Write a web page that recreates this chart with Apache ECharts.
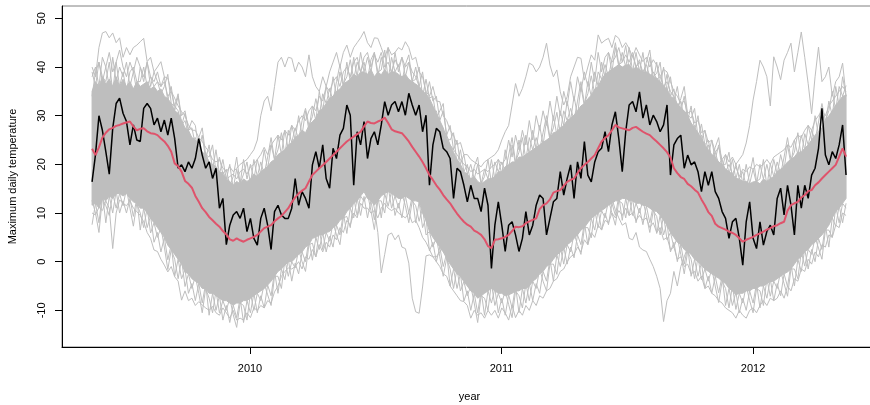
<!DOCTYPE html>
<html><head><meta charset="utf-8">
<script src="https://cdn.jsdelivr.net/npm/echarts@6/dist/echarts.min.js"></script>
<style>html,body{margin:0;padding:0;background:#fff}#c{width:870px;height:405px}</style>
</head><body><div id="c"></div>
<script>
// Daily series sampled every 5 days from mid-May 2009 to mid-May 2012
const startYear = 2009.372;
const stepDays = 5;
const xTicks = [2010, 2011, 2012];
const yTicks = [-10, 0, 10, 20, 30, 40, 50];

// Observed maximum daily temperature (black)
const observed = [
16.4,22,30,27,22.6,18,27.4,32.5,33.6,30.5,
28.8,24,28.1,25,24.7,31.5,32.5,31.5,28.1,29.5,
26.7,29.1,26,29.5,25.3,19.2,19.9,18.5,20.5,19.2,
21.2,25.3,21.9,19.2,20.5,17.1,19.2,11,13,3.5,
7.5,9.6,10.3,8.9,11,6.2,8.9,4.8,3.4,8.9,
11,7.5,2.5,10.3,11.6,9.6,8.9,8.9,11,17.1,
11.6,14.4,13,11,19.9,22.6,19.2,24,17.1,15.1,
23.3,21.2,26,27.4,32.2,30.1,15.7,26.7,24,28.8,
21.2,25.3,26.7,24,28.1,32.9,30.1,32.2,32.9,30.8,
32.9,30.1,34.6,32.2,30.1,32.2,26.7,30.1,15.7,24,
27.4,26.7,23.3,22.6,21.2,13,19.2,18.5,15.7,12.3,
15.7,13,13,10.3,15.1,11.6,-1.4,7.5,12.3,7.5,
2.1,7.5,8.2,5.5,2.1,4.8,10.3,5.5,7.5,11.6,
13.7,13,5.5,8.9,12.3,13,18.5,13.7,17.1,19.9,
13,20.5,17.1,24.7,17.8,16.4,20.5,22.6,23.3,26.7,
22.6,28.1,30.8,25.3,18.5,26.7,32.2,32.9,30.8,34.9,
29.5,32.2,28.1,30.1,28.8,26.7,28.1,32.2,17.8,24,
25.3,26,19.2,21.9,19.9,20.5,18.5,14.4,18.5,15.7,
18.5,14.4,13,10.3,8.9,4.8,8.2,8.9,4.8,-0.7,
8.2,12.3,4.8,2.7,8.2,3.4,6.2,7.5,5.5,13,
15.1,9.6,15.7,11.6,5.5,15.7,11,15.7,13,17.8,
19.2,23.3,31.5,21.9,19.9,22.6,21.2,24,28.1,17.8
];

// Ensemble mean (red)
const ensembleMean = [
23.2,21.9,23.5,25.5,26.5,27.2,27.5,27.9,28.1,28.4,
28.6,28.8,27.8,27,27.3,27.4,26.8,26.4,26.3,26,
25.3,24.7,23.8,22.6,20.2,19.6,18.5,16.6,16,15.2,
13.5,12.3,11,10.2,9.2,8.5,7.8,7.2,6.3,5.6,
4.6,4.3,4.8,4.4,4.1,4.5,4.8,5.1,5.5,6.2,
6.9,7.2,7.5,8.3,8.9,9.4,10.2,11,12.2,13.2,
14,14.6,15.1,16.5,17.8,18.5,19.2,19.8,20.5,21.2,
21.9,22.6,23.3,24,24.7,25.2,25.7,26.2,26.7,27.8,
28.8,28.5,28.4,28.8,29.1,29.6,28.5,27.2,26.8,26.6,
26.4,25.6,24.7,23.6,22.6,21.6,20.5,19.2,17.8,16.8,
15.7,14.8,13.7,12.8,12,10.9,9.9,9,8.2,7.6,
7.2,6.4,6,5.5,4.6,3.2,2.8,4.5,4.6,4.8,
5.1,5.5,6.3,7.2,7.1,7.3,7.9,8.3,8.6,8.9,
10.8,11.6,12,12.8,14.2,14.5,14.7,15.6,16.4,16.8,
17.1,18.2,19.2,19.9,20.5,21.2,21.9,23.3,24.7,25.4,
26,27,28.1,27.6,27.4,27.2,27,27.5,27.7,27.2,
26.7,26.3,26,25.3,24.7,24,23.3,22.5,21.4,19.2,
18.2,17.4,17,16,15.5,14.8,14.2,12.8,11.6,10.2,
9.4,7.8,7.2,6.9,6.6,6.2,5.9,5.5,4.8,4.1,
4.5,4.8,5.1,5.5,5.8,6.2,6.6,6.9,7.3,7.5,
7.9,8.2,10.5,11.6,12,12.3,13.2,13.7,14.5,14.7,
15.7,16.3,17.1,17.8,18.5,19.2,19.9,21.6,23.3,21.6
];

// Dense part of the ensemble: lower and upper edge
const bandLower = [
11.6,12,11,13,12.5,13.5,13,14,14,13.5,
14,13,12.3,12,11,11,10,8.9,8,7,
6,5,3.4,2.5,1.5,0.5,-0.5,-2.1,-2.5,-3.5,
-4,-4.5,-5.5,-5.5,-6.5,-6.5,-7,-7.5,-8,-8,
-8.5,-8.9,-8.5,-8.5,-8,-8,-7.5,-7,-6.5,-6,
-5.5,-4.8,-4,-3,-2,-1.5,-0.7,0,0,0.7,
1.5,2,3,3.5,4.8,5,5.5,5.5,6,6.2,
7,7.5,8.5,9,10.3,11,12,12.5,13.5,14.4,
13,12.5,11.6,12.5,13.5,14,14.4,14,13.5,13,
13,13.5,13,12.5,12.5,12.3,10,8.5,6.2,5,
4,3,2,0.7,-0.5,-1.5,-2.5,-3,-4.1,-5,
-6,-6.5,-7.5,-7,-6.5,-6,-5.5,-6,-6.5,-6.5,
-7,-6.8,-6.5,-6,-6,-5.5,-5.5,-5,-4,-3.5,
-2.5,-2,-1,-0.5,0.5,1.4,2,2.5,3.5,4,
4.8,5.5,6.5,7,8,8.9,9.5,10,10.5,11,
11.6,12,12.5,12.5,13,13,12.5,12.5,12,12,
11.6,11.5,11,10.5,10.3,9.5,8.5,7.5,6,5,
4,3.5,2.5,2.1,1.5,0.5,0,-0.7,-1.5,-2,
-2.5,-3,-3.4,-4,-4.5,-5.5,-6,-6.8,-6.5,-6.5,
-6,-6,-5.5,-5.5,-5,-5,-4.5,-4.1,-4,-3.5,
-3,-2.5,-2.1,-1.5,-0.5,0.5,1,2.1,2.5,3.5,
4,4.8,5.5,6.5,7.5,9,10.3,11,12,13
];
const bandUpper = [
35,37,36,38,36.5,37.5,36,38,36,37.5,
36,37,35.5,37,36,36.5,37,35.5,36,35,
35.5,34,33.5,32.5,31,30.5,29,27.5,27,25.5,
25,23.5,22.5,22,20.5,20,19.5,18.5,18,17,
16.5,15.7,16.5,16,17,16.5,17,18,17.5,18.5,
19,19.5,20.5,21,22,22.5,23,24,24.5,25.5,
26,27,26.5,28,28.8,29.5,31,31.5,32.5,33.6,
34,35,35.5,36.5,37,37.5,38.5,38,39,39,
38.5,39.5,38,39,38.4,39.5,38.5,39,39,38.5,
38,38.5,37.5,37,36.5,36,35,34.5,33.6,32,
30.5,29,27.5,25.3,24,22.5,21,20,18.5,18,
17,17.5,16.5,16,16.5,17,17.1,17.5,18.5,18.5,
19.5,19.9,20.5,20.5,21.5,21.5,22,22.5,23,23.5,
24,24.5,25,25.5,26.5,26.7,27.5,28,29,29.5,
30.1,31,32,32.5,33.5,34.2,35.5,36,37.5,38.5,
39,39.5,40,40.5,40,40.4,40.5,39.5,40,39.5,
39,39,38.5,38,37.7,37,36,35.5,34,33.5,
32.5,31.5,31,30.1,28.5,27.5,26.5,25.3,24,23,
22,21.5,20.5,20,19,18.5,18,17.1,17,16.5,
16.5,16,16.4,16.5,16,17,16.5,17.1,17.5,18.5,
19,19.5,20.5,21,21.5,22.5,22.5,23.3,24,25,
26,26.7,27.5,29,30,31,32.2,33,34,34.2
];

// Members running along the edges of the dense part
const edgeHighA = [
39,36,41,37,40,36,42,37,40,38,
41,36,39,35,40,37,41,36,39,37,
36,38,33,36,31,34,30,31,27,29,
28,23,26,21,24,19,23,18,21,17,
20,15,19,16,21,17,20,17,21,18,
23,19,24,21,26,22,27,23,28,25,
30,26,31,27,32,29,35,31,36,33,
38,34,39,36,41,37,42,38,43,39,
42,39,43,38,42,39,44,38,43,39,
42,38,41,37,40,36,39,34,37,33,
34,29,31,26,28,23,25,20,22,18,
20,17,20,16,19,17,21,17,21,18,
23,19,24,20,25,21,26,22,27,23,
28,24,29,25,30,26,31,28,33,29,
34,30,36,32,37,34,39,36,41,38,
43,39,44,40,43,40,44,39,43,39,
43,38,42,37,41,36,40,35,38,33,
36,31,34,29,32,27,30,25,27,22,
25,21,24,19,22,18,21,17,20,16,
20,16,19,16,20,17,20,17,21,18,
22,19,24,20,25,22,26,23,28,25,
30,26,31,28,33,30,36,32,38,34
];
const edgeHighB = [
34,39,41,38,37,41,35,41,36,39,
35,39,40,37,37,40,36,38,36,37,
34.5,36,38.5,32.5,32,34.5,28,30.5,27,27.5,
24,25.5,27.5,22,21.5,24,18.5,21.5,18,19,
15.5,17.5,21.5,16,18,20.5,16,21,17.5,20.5,
18,21.5,25.5,21,23,26.5,22,27,24.5,27.5,
25,29,31.5,28,29.8,33.5,30,34.5,32.5,35.6,
33,37,40.5,36.5,38,41.5,37.5,41,39,41,
37.5,41.5,43,39,39.4,43.5,37.5,42,39,40.5,
37,40.5,42.5,37,37.5,40,34,37.5,33.6,34,
29.5,31,32.5,25.3,25,26.5,20,23,18.5,20,
16,19.5,21.5,16,17.5,21,16.1,20.5,18.5,20.5,
18.5,21.9,25.5,20.5,22.5,25.5,21,25.5,23,25.5,
23,26.5,30,25.5,27.5,30.7,26.5,31,29,31.5,
29.1,33,37,32.5,34.5,38.2,34.5,39,37.5,40.5,
38,41.5,45,40.5,41,44.4,39.5,42.5,40,41.5,
38,41,43.5,38,38.7,41,35,38.5,34,35.5,
31.5,33.5,36,30.1,29.5,31.5,25.5,28.3,24,25,
21,23.5,25.5,20,20,22.5,17,20.1,17,18.5,
15.5,18,21.4,16.5,17,21,15.5,20.1,17.5,20.5,
18,21.5,25.5,21,22.5,26.5,21.5,26.3,24,27,
25,28.7,32.5,29,31,35,31.2,36,34,36.2
];
const edgeLowA = [
7.6,12,8,14,8,13.5,10,14.5,10,12.5,
10,13,9.3,13,6.5,11,7,9.4,4,6,
2,5,0.4,3.5,-3,0.5,-3.5,-1.6,-6.5,-4.5,
-8,-4.5,-8.5,-4.5,-11,-6.5,-10,-7,-12,-9,
-12.5,-8.9,-11.5,-7.5,-12.5,-8,-10.5,-6.5,-10.5,-7,
-9.5,-4.8,-7,-2,-6.5,-1.5,-3.7,0.5,-4,-0.3,
-2.5,2,0,4.5,0.3,5,2.5,6,2,5.2,
3,7.5,5.5,10,5.8,11,9,13,9.5,13.4,
9,12.5,8.6,13.5,9,14,11.4,14.5,9.5,12,
9,13.5,10,13.5,8,12.3,7,9,2.2,4,
0,3,-1,1.7,-5,-1.5,-5.5,-2.5,-8.1,-6,
-10,-6.5,-10.5,-6,-11,-6,-8.5,-5.5,-10.5,-7.5,
-11,-6.8,-9.5,-5,-10.5,-5.5,-8.5,-4.5,-8,-4.5,
-6.5,-2,-4,0.5,-4,1.4,-1,3,-0.5,3,
0.8,5.5,3.5,8,3.5,8.9,6.5,10.5,6.5,10,
7.6,12,9.5,13.5,8.5,13,9.5,13,8,11,
7.6,11.5,8,11.5,5.8,9.5,5.5,8,2,4,
0,3.5,-0.5,3.1,-3,0.5,-3,-0.2,-5.5,-3,
-6.5,-3,-6.4,-3,-9,-5.5,-9,-6.3,-10.5,-7.5,
-10,-6,-8.5,-4.5,-9.5,-5,-7.5,-3.6,-8,-4.5,
-7,-2.5,-5.1,-0.5,-5,0.5,-2,2.6,-1.5,2.5,
0,4.8,2.5,7.5,3,9,7.3,11.5,8,12
];
const edgeLowB = [
12.6,10,6,13,11.5,9.5,14,11,14,11.5,
15,11,7.3,12,10,7,11,5.9,8,5,
7,3,-1.6,2.5,0.5,-3.5,0.5,-5.1,-2.5,-5.5,
-3,-6.5,-10.5,-5.5,-7.5,-10.5,-6,-10.5,-8,-10,
-7.5,-10.9,-13.5,-8.5,-9,-12,-6.5,-10,-6.5,-8,
-4.5,-6.8,-9,-3,-3,-5.5,0.3,-3,0,-1.3,
2.5,0,-2,3.5,3.8,1,6.5,2.5,6,4.2,
8,5.5,3.5,9,9.3,7,13,9.5,13.5,12.4,
14,10.5,6.6,12.5,12.5,10,15.4,11,13.5,11,
14,11.5,8,12.5,11.5,8.3,11,5.5,6.2,3,
5,1,-3,0.7,-1.5,-5.5,-1.5,-6,-4.1,-7,
-5,-8.5,-12.5,-7,-7.5,-10,-4.5,-9,-6.5,-8.5,
-6,-8.8,-11.5,-6,-7,-9.5,-4.5,-8,-4,-5.5,
-1.5,-4,-6,-0.5,-0.5,-2.6,3,-0.5,3.5,2,
5.8,3.5,1.5,7,7,4.9,10.5,7,10.5,9,
12.6,10,7.5,12.5,12,9,13.5,9.5,12,10,
12.6,9.5,6,10.5,9.3,5.5,9.5,4.5,6,3,
5,1.5,-2.5,2.1,0.5,-3.5,1,-3.7,-1.5,-4,
-1.5,-5,-8.4,-4,-5.5,-9.5,-5,-9.8,-6.5,-8.5,
-5,-8,-10.5,-5.5,-6,-9,-3.5,-7.1,-4,-5.5,
-2,-4.5,-7.1,-1.5,-1.5,-3.5,2,-0.9,2.5,1.5,
5,2.8,0.5,6.5,6.5,5,11.3,8,12,11
];

// Members well outside the dense part
const memberHigh = [
40,38,44,47,47.3,46,47,45,46,42,
44,42.5,44,44.5,45.2,45.9,41.1,42,39,40,
41.1,38,37.7,35,33.6,32,30.8,30,28.1,27,
27,25.5,24.7,23.5,22.6,21,20.5,21,19.2,18.5,
19.5,18.5,19.2,20,20.5,21,22,23,25,30,
33,34,31,36,41,42,40,42,41.8,39,
41,40,38,42.5,38,36,35,38,36,39,
41,43,40,43,44.5,42,44,45,46,47.3,
45,44,46,45.9,44,42,44,42.5,43,44,
43.5,45.2,44,41.5,42,39,38,35,34,36,
33,32.9,30,29,27,26,24,24.5,22,22,
21,20.5,20,19.5,20.5,21,21.5,22,23,25,
26.7,28,32.2,36.6,34,35.6,38,40.8,40.4,39,
40,42,44.9,40.4,38,39.4,34.9,32.2,33.9,38,
40,42,41.8,37.3,40,42.5,41.4,46.6,44.9,45.5,
45.9,44,46.5,45.9,44,45,43.8,42,44,42.5,
41.1,42,40,41.5,40.4,38,39.5,39,37,35,
34,32.5,33,30.5,31,28.5,29,26.5,27,24.5,
25,22.5,23.5,21,22,20.5,21.5,20,21,22,
24.4,28,33.2,37,41.4,40,38,32,42.1,40,
37.4,41.4,43,44.9,39,43,47.2,42,36.6,30.4,
38,44.1,37,38,40,34,37,38,40.8,34
];
const memberHigh2 = [
38,40,36,42,40,43,39,41,43.5,40,
38,41,39,42,40,38,41,38,37,39,
36,37,34,35,32,31,28,29,26,25,
25.5,23,22,22.5,20,19.5,19,18,18.5,17,
17.5,18,17,18.5,19,18,19.5,20,21,22,
23.5,22,24,25,26,25,27,26,28,27,
29,30,29,31,32,31,34,33,36,35,
37,38,36,39,40,38,41,42,39,42,
43,40,42.5,41,43,40,41,39,41.5,40,
42,40,41,39,38,36,35,33,32,30,
31,28,27,26,24,23,22,21,20,19.5,
18.5,19,18,18.5,19,18.5,19.5,20,21,20,
21,25,21.5,26,23,27,24,29,25,30,
27,31,28,33,29,34,30,35,32,37,
33,38,35,39,36,41,37,43,39,42,
43,41,42,44,41,42.5,41,43,40,41,
39,40.5,38,39,37.5,38,36,37,35,34,
32,33,29.5,30,27,28,25,26,23,24,
21,22.5,20,21,18.5,20,18,19.5,17.5,19,
18.5,19.5,19,20,19.5,20,21,20,21.5,22,
22.5,23,24,23.5,25,26,25.5,27,28,27,
29,30,31,30,32,33,34,35,36,35
];
const memberLow = [
10,9.6,11.2,10.5,12.5,11,2.7,10,12.7,12,
11.5,12.5,11,10.3,9.5,8.2,6,4.8,2.4,2.1,
0.5,-0.7,-2.1,-1,-3.1,-4,-7.9,-6,-8,-7.5,
-9,-8.2,-8.9,-9.5,-10,-9.2,-10.5,-11,-9.5,-10.5,
-11.6,-10,-12,-11.6,-12,-10.5,-11.5,-9.5,-10,-9,
-9.5,-8,-8.5,-6.2,-5,-3,-2,-1.3,-1.5,-1,
0,-1.5,1,0.5,2.5,1,3.5,2,4,3,
5.5,4.5,7,6,8.5,7.5,10,9,12,11,
11,10,10.5,9,11,12,11,10.5,11,10,
9.5,9,10,8,8.5,7,5,4,2.5,1,
0,-1,-2.5,-3,-5,-6,-7,-8,-8.2,-9,
-11.6,-10,-11,-10.5,-11.6,-10,-11,-10,-11.6,-9.5,
-10.5,-12,-9,-11.5,-10,-11,-9,-10,-8,-9,
-7,-7.5,-6,-5.5,-4,-3.5,-2,-1.5,0,1,
1.5,3,2,4.5,3.5,6,5,7.5,6.5,8.5,
8,10,9,10.5,9.5,11,9.5,10,8.5,9.5,
8.5,9,7,8,6,7,4.5,5,2.5,3,
0.5,1,-1,-0.5,-2.5,-2,-4,-3,-5.5,-5,
-6.5,-7,-8,-8.5,-9.5,-10,-10.5,-11.6,-10,-11,
-11.6,-10,-9.5,-10.5,-9,-8,-9,-7.5,-8,-7.5,
-6,-7.5,-5,-6,-3.5,-4,-1.5,-2,0.5,-0.5,
2,1,3.5,3,5.5,5,7.5,7,10,9.5
];
// Two members that drop far below the rest (index where each stretch starts)
const lowAutumn2010Start = 77;
const lowAutumn2010 = [22,19,17,16,14,11,6,-2.3,1.5,5.5,5.9,4.5,5.5,3,2.7,-0.3,-7.5,-10.3,-10.6,-5.2,1.2,1.4,1,1,2,3,8.2,10];
const lowAutumn2011Start = 150;
const lowAutumn2011 = [14,13,10.6,9,7.5,8,4.8,4.5,6,3,2.4,2.1,0.5,-1,-3,-5.5,-12.3,-8,-6.5,-2,-5,-1,1,3,5.8];

const FONT = 'Liberation Sans, Arial, Helvetica, sans-serif';
const GRAY = '#BEBEBE';
const RED = '#DF536B';

function yearAt(i) { return startYear + i * stepDays / 365.25; }
function toPairs(values, offset) {
  const o = offset || 0;
  return values.map((v, i) => [yearAt(i + o), v]);
}
// band rows: [year, lower, upper]
const bandRows = bandLower.map((lo, i) => [yearAt(i), lo, bandUpper[i]]);

function grayLine(name, data) {
  return { name, type: 'line', data, symbol: 'none', silent: true,
    lineStyle: { color: GRAY, width: 1 }, z: 2 };
}

const chart = echarts.init(document.getElementById('c'), null, { renderer: 'canvas' });
chart.setOption({
  animation: false,
  backgroundColor: '#fff',
  grid: { left: 62, right: -7, top: 6, bottom: 58, show: true, borderColor: '#808080', borderWidth: 1,
    containLabel: false, outerBoundsMode: 'none' },
  xAxis: {
    type: 'value', min: 2009.2525, max: 2012.493,
    axisLine: { show: true, onZero: false, lineStyle: { color: '#000', width: 1 } },
    axisTick: { show: true, customValues: xTicks, length: 7, lineStyle: { color: '#000' } },
    axisLabel: { customValues: xTicks, formatter: v => String(Math.round(v)), fontSize: 11, color: '#000', fontFamily: FONT, margin: 16 },
    splitLine: { show: false },
    name: 'year', nameLocation: 'middle', nameGap: 44,
    nameTextStyle: { fontSize: 11, color: '#000', fontFamily: FONT }
  },
  yAxis: {
    type: 'value', min: -17.53, max: 52.54,
    axisLine: { show: true, onZero: false, lineStyle: { color: '#000', width: 1 } },
    axisTick: { show: true, customValues: yTicks, length: 7, lineStyle: { color: '#000' } },
    axisLabel: { customValues: yTicks, formatter: v => String(Math.round(v)), rotate: 90, fontSize: 11, color: '#000', fontFamily: FONT, margin: 15 },
    splitLine: { show: false },
    name: 'Maximum daily temperature', nameLocation: 'middle', nameGap: 44, nameRotate: 90,
    nameTextStyle: { fontSize: 11, color: '#000', fontFamily: FONT }
  },
  series: [
    { name: 'band', type: 'custom', data: bandRows, silent: true, z: 1,
      encode: { x: 0, y: [1, 2] },
      renderItem: function (params, api) {
        if (params.dataIndex !== 0) return null;
        const up = [], lo = [];
        for (let k = 0; k < bandRows.length; k++) {
          up.push(api.coord([bandRows[k][0], bandRows[k][2]]));
          lo.push(api.coord([bandRows[k][0], bandRows[k][1]]));
        }
        const pts = up.concat(lo.reverse());
        return { type: 'polygon', shape: { points: pts },
          style: { fill: GRAY, stroke: GRAY, lineWidth: 1 } };
      }
    },
    grayLine('edgeHighA', toPairs(edgeHighA)),
    grayLine('edgeHighB', toPairs(edgeHighB)),
    grayLine('edgeLowA', toPairs(edgeLowA)),
    grayLine('edgeLowB', toPairs(edgeLowB)),
    grayLine('high', toPairs(memberHigh)),
    grayLine('high2', toPairs(memberHigh2)),
    grayLine('low', toPairs(memberLow)),
    grayLine('low2010', toPairs(lowAutumn2010, lowAutumn2010Start)),
    grayLine('low2011', toPairs(lowAutumn2011, lowAutumn2011Start)),
    { name: 'observed', type: 'line', data: toPairs(observed), symbol: 'none', silent: true,
      lineStyle: { color: '#000', width: 1.5 }, z: 3 },
    { name: 'mean', type: 'line', data: toPairs(ensembleMean), symbol: 'none', silent: true,
      lineStyle: { color: RED, width: 2 }, z: 4 }
  ]
});
</script>
</body></html>
